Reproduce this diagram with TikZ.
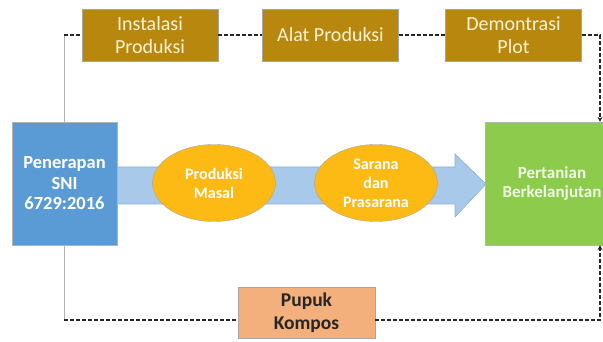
\documentclass[tikz,border=0pt]{standalone}
\usepackage{fontspec}
\setmainfont{Carlito}
\usetikzlibrary{shapes.geometric,arrows.meta}
\definecolor{gold}{HTML}{B8870E}
\definecolor{goldtext}{HTML}{FBF3D0}
\definecolor{bluebox}{HTML}{5B9BD5}
\definecolor{greenbox}{HTML}{8CCB4C}
\definecolor{greentext}{HTML}{F2F8E6}
\definecolor{orangebox}{HTML}{F3AF7C}
\definecolor{ellfill}{HTML}{FDBA14}
\definecolor{bandfill}{HTML}{A8C9E9}
\definecolor{bandline}{HTML}{86AFD8}
\tikzset{
  x=1pt, y=-1pt,
  topbox/.style={draw=gray!70, fill=gold, text=goldtext, minimum width=136pt, minimum height=52pt, align=center, font=\fontsize{20}{22.5}\selectfont, inner sep=0pt},
  sidebox/.style={draw=gray!60, minimum width=105pt, minimum height=123pt, align=center, text=white, font=\bfseries\fontsize{18.5}{20.5}\selectfont, inner sep=0pt},
  greenstyle/.style={draw=gray!60, fill=greenbox, minimum width=134pt, minimum height=123pt, align=center, text=greentext, font=\bfseries\fontsize{17}{19.5}\selectfont, inner sep=0pt},
  ell/.style={ellipse, draw=gray!70, fill=ellfill, text=white, minimum width=123pt, minimum height=77pt, align=center, font=\bfseries\fontsize{16}{19}\selectfont, inner sep=0pt},
  dashline/.style={draw=black!85, dashed, dash pattern=on 4pt off 2pt, line width=1.3pt},
  thinline/.style={draw=gray!60, line width=0.6pt}
}
\begin{document}
\begin{tikzpicture}
\useasboundingbox (0,0) rectangle (603,342);
% corners
\coordinate (tl) at (64,35);
\coordinate (bl) at (64,320);
\coordinate (tr) at (600,35);
\coordinate (br) at (600,320);
% thin line
\draw[thinline] (tl) -- (bl);
% band arrow
\path[fill=bandfill, draw=bandline, line width=0.6pt] (117,167) -- (455,167) -- (455,154) -- (486,184) -- (455,217) -- (455,204) -- (117,204) -- cycle;
% nodes
\node[topbox] (inst) at (150,35) {Instalasi\\Produksi};
\node[topbox] (alat) at (330.5,35) {Alat Produksi};
\node[topbox] (demo) at (513.5,35) {Demontrasi\\Plot};
\node[sidebox, fill=bluebox] (sni) at (64.5,183.5) {Penerapan\\SNI\\6729:2016};
\node[greenstyle] (tani) at (552,183.5) {Pertanian\\Berkelanjutan};
\node[ell] (masal) at (214,183) {Produksi\\Masal};
\node[ell] (sarana) at (376,183) {Sarana\\dan\\Prasarana};
\node[draw=gray!70, fill=orangebox, text=black!85, minimum width=137pt, minimum height=51pt, align=center, font=\bfseries\fontsize{19.5}{23}\selectfont, inner sep=0pt] (pupuk) at (306.5,313) {Pupuk\\Kompos};
% dashed connectors
\draw[dashline] (tl) -- (inst.west);
\draw[dashline] (inst.east) -- (alat.west);
\draw[dashline] (alat.east) -- (demo.west);
\draw[dashline, -{Stealth[length=5pt,width=5pt]}] (demo.east) -- (tr) -- (tr |- tani.north);
\draw[dashline] (bl) -- (pupuk.west |- bl);
\draw[dashline, -{Stealth[length=5pt,width=5pt]}] (pupuk.east |- br) -- (br) -- (br |- tani.south);
\end{tikzpicture}
\end{document}
